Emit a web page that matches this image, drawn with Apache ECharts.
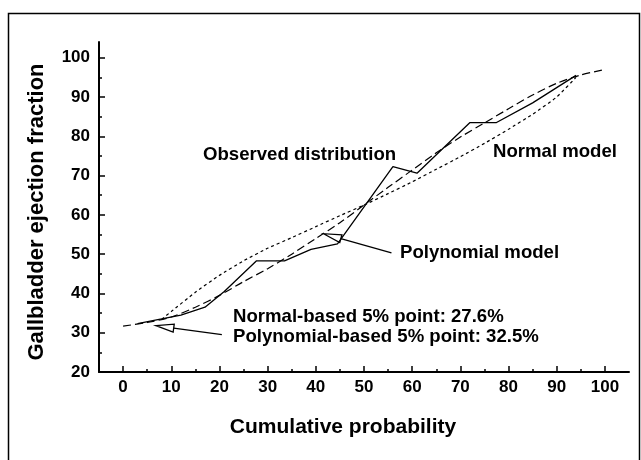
<!DOCTYPE html>
<html>
<head>
<meta charset="utf-8">
<script src="https://cdn.jsdelivr.net/npm/echarts@6/dist/echarts.min.js"></script>
<style>
html,body{margin:0;padding:0;background:#fff;}
#main{width:641px;height:460px;}
</style>
</head>
<body>
<div id="main"></div>
<script>
// ---- data ----
const xTicks = [0, 10, 20, 30, 40, 50, 60, 70, 80, 90, 100];
const xMinorTicks = [5, 15, 25, 35, 45, 55, 65, 75, 85, 95];
const yTicks = [20, 30, 40, 50, 60, 70, 80, 90, 100];
const yMinorTicks = [25, 35, 45, 55, 65, 75, 85, 95];

// Observed distribution (solid)
const obsX = [3, 8, 12, 17, 21, 27.7, 33.5, 39, 44.5, 56, 61, 72, 77.5, 85, 94];
const obsY = [32.3, 33.5, 34.5, 36.5, 40.5, 48.3, 48.3, 51.2, 52.6, 72.3, 70.6, 83.5, 83.5, 88.5, 95.5];

// Polynomial model (long dash)
const polyX = [0, 5, 10, 15, 20, 25, 30, 35, 40, 45, 50, 55, 60, 65, 70, 75, 80, 85, 90, 95, 100];
const polyY = [31.7, 32.6, 34, 36.5, 39.5, 43, 46.3, 50, 54, 58, 62.5, 67, 71.4, 75.8, 79.8, 83.4, 87, 90.5, 93.5, 95.6, 97];

// Normal model (short dash)
const normX = [8, 10, 15, 20, 25, 30, 35, 40, 45, 50, 55, 60, 65, 70, 75, 80, 85, 90, 94];
const normY = [33.4, 35.4, 40.3, 44.6, 48.3, 51.5, 54.2, 57, 59.8, 62.5, 65.4, 68.4, 71.6, 74.8, 78.2, 81.8, 85.6, 90, 95];

// annotation arrows (data coords): [tip, tail]
const arrow5pct = [[6.8, 31.8], [20.5, 29.5]];
const arrowPoly = [[41.6, 55.2], [55.7, 50.3]];

const labels = {
  yName: 'Gallbladder ejection fraction',
  xName: 'Cumulative probability',
  observed: 'Observed distribution',
  normal: 'Normal model',
  poly: 'Polynomial model',
  normal5: 'Normal-based 5% point: 27.6%',
  poly5: 'Polynomial-based 5% point: 32.5%'
};

const FONT = '"Liberation Sans", Arial, Helvetica, sans-serif';
const pairs = (xs, ys) => xs.map((x, i) => [x, ys[i]]);

const chart = echarts.init(document.getElementById('main'), null, {renderer: 'canvas'});

const tickLabel = {fontFamily: FONT, fontWeight: 'bold', fontSize: 17, color: '#000'};

chart.setOption({
  backgroundColor: '#fff',
  animation: false,
  grid: {left: 99, top: 42, width: 530, height: 330, containLabel: false},
  xAxis: [
    {
      type: 'value', min: -5, max: 105, position: 'bottom',
      axisLine: {show: true, onZero: false, lineStyle: {color: '#000', width: 2}},
      axisTick: {show: true, inside: true, length: 6, customValues: xTicks, lineStyle: {color: '#000', width: 1.5}},
      axisLabel: Object.assign({customValues: xTicks, margin: 7}, tickLabel),
      splitLine: {show: false},
      name: labels.xName, nameLocation: 'middle', nameGap: 45,
      nameTextStyle: {fontFamily: FONT, fontWeight: 'bold', fontSize: 21, color: '#000', padding: [0, 42, 0, 0]}
    },
    {
      type: 'value', min: -5, max: 105, position: 'bottom',
      axisLine: {show: false, onZero: false},
      axisTick: {show: true, inside: true, length: 3, customValues: xMinorTicks, lineStyle: {color: '#000', width: 1.5}},
      axisLabel: {show: false},
      splitLine: {show: false}
    }
  ],
  yAxis: [
    {
      type: 'value', min: 20, max: 104, position: 'left',
      axisLine: {show: true, onZero: false, lineStyle: {color: '#000', width: 2}},
      axisTick: {show: true, inside: true, length: 6, customValues: yTicks, lineStyle: {color: '#000', width: 1.5}},
      axisLabel: Object.assign({customValues: yTicks, margin: 9}, tickLabel),
      splitLine: {show: false},
      name: labels.yName, nameLocation: 'middle', nameGap: 51,
      nameTextStyle: {fontFamily: FONT, fontWeight: 'bold', fontSize: 22, color: '#000', padding: [0, 10, 0, 0]}
    },
    {
      type: 'value', min: 20, max: 104, position: 'left',
      axisLine: {show: false, onZero: false},
      axisTick: {show: true, inside: true, length: 3, customValues: yMinorTicks, lineStyle: {color: '#000', width: 1.5}},
      axisLabel: {show: false},
      splitLine: {show: false}
    }
  ],
  series: [
    {
      name: 'Observed distribution', type: 'line', xAxisIndex: 0, yAxisIndex: 0,
      data: pairs(obsX, obsY), showSymbol: false, symbol: 'none',
      lineStyle: {color: '#000', width: 1.3, type: 'solid'}
    },
    {
      name: 'Polynomial model', type: 'line', xAxisIndex: 0, yAxisIndex: 0,
      data: pairs(polyX, polyY), showSymbol: false, symbol: 'none', smooth: 0.3,
      lineStyle: {color: '#000', width: 1.2, type: [8, 4]}
    },
    {
      name: 'Normal model', type: 'line', xAxisIndex: 0, yAxisIndex: 0,
      data: pairs(normX, normY), showSymbol: false, symbol: 'none', smooth: 0.15,
      lineStyle: {color: '#000', width: 1.2, type: [3, 3]}
    }
  ]
});

function arrowGraphics(arrow) {
  const tip = chart.convertToPixel({xAxisIndex: 0, yAxisIndex: 0}, arrow[0]);
  const tail = chart.convertToPixel({xAxisIndex: 0, yAxisIndex: 0}, arrow[1]);
  const dx = tail[0] - tip[0], dy = tail[1] - tip[1];
  const len = Math.sqrt(dx * dx + dy * dy);
  const ux = dx / len, uy = dy / len;
  const hl = 18, hw = 4;
  const bx = tip[0] + ux * hl, by = tip[1] + uy * hl;
  const p1 = [bx - uy * hw, by + ux * hw];
  const p2 = [bx + uy * hw, by - ux * hw];
  return [
    {type: 'polyline', shape: {points: [[bx, by], tail]}, style: {stroke: '#000', lineWidth: 1.3, fill: null}},
    {type: 'polygon', shape: {points: [tip, p1, p2]}, style: {stroke: '#000', lineWidth: 1.3, fill: '#fff'}}
  ];
}

const textStyle = (t, x, y) => ({
  type: 'text', x: x, y: y,
  style: {text: t, fontFamily: FONT, fontWeight: 'bold', fontSize: 18.6, fill: '#000', textVerticalAlign: 'middle', textAlign: 'left'}
});

chart.setOption({
  graphic: [
    {type: 'rect', shape: {x: 8.5, y: 13.5, width: 631, height: 500}, style: {fill: null, stroke: '#000', lineWidth: 1.5}, silent: true},
    ...arrowGraphics(arrow5pct),
    ...arrowGraphics(arrowPoly),
    textStyle(labels.observed, 203, 155),
    textStyle(labels.normal, 493, 152),
    textStyle(labels.poly, 400, 253),
    textStyle(labels.normal5, 233, 317),
    textStyle(labels.poly5, 233, 337)
  ]
});
</script>
</body>
</html>
